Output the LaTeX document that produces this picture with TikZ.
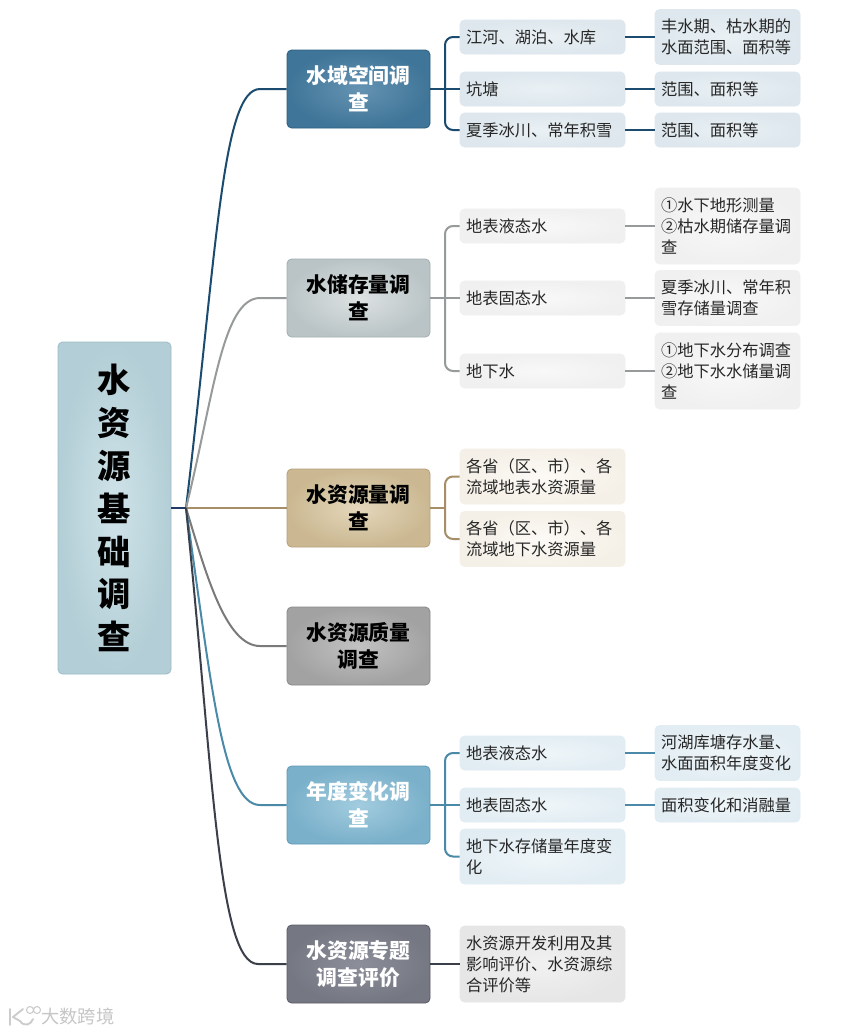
\documentclass[tikz,border=0pt]{standalone}
\usepackage{fontspec}
\setmainfont{Noto Sans CJK SC}
\definecolor{cA}{HTML}{1B4B6E}
\definecolor{cB}{HTML}{979A9A}
\definecolor{cC}{HTML}{A68F68}
\definecolor{cD}{HTML}{7A7A7A}
\definecolor{cE}{HTML}{4A89A8}
\definecolor{cF}{HTML}{3B3F4A}
\definecolor{cR}{HTML}{223A66}
\definecolor{rI}{HTML}{CFE3E9}\definecolor{rO}{HTML}{B3CED6}\definecolor{rD}{HTML}{9DBCC5}
\definecolor{tAi}{HTML}{6593B2}\definecolor{tAo}{HTML}{3F7598}\definecolor{tAd}{HTML}{2A5F80}
\definecolor{tBi}{HTML}{DDE2E2}\definecolor{tBo}{HTML}{BAC4C6}\definecolor{tBd}{HTML}{A3AEB0}
\definecolor{tCi}{HTML}{E4D7BB}\definecolor{tCo}{HTML}{CBB892}\definecolor{tCd}{HTML}{B5A078}
\definecolor{tDi}{HTML}{C2C2C2}\definecolor{tDo}{HTML}{A2A2A2}\definecolor{tDd}{HTML}{8A8A8A}
\definecolor{tEi}{HTML}{A2CCDF}\definecolor{tEo}{HTML}{7AB0CA}\definecolor{tEd}{HTML}{5F9AB8}
\definecolor{tFi}{HTML}{8C8E99}\definecolor{tFo}{HTML}{757782}\definecolor{tFd}{HTML}{5A5C66}
\definecolor{lAi}{HTML}{EAF1F5}\definecolor{lAo}{HTML}{DDE7ED}
\definecolor{lBi}{HTML}{F8F8F8}\definecolor{lBo}{HTML}{F0F0F0}
\definecolor{lCi}{HTML}{FCFAF6}\definecolor{lCo}{HTML}{F5F0E7}
\definecolor{lEi}{HTML}{EFF6F9}\definecolor{lEo}{HTML}{E2EDF3}
\definecolor{lFi}{HTML}{F1F1F1}\definecolor{lFo}{HTML}{E6E6E6}
\tikzset{
 base/.style={rounded corners=3.5pt,line width=.6pt,anchor=center,inner sep=0pt},
 rootbox/.style={base,minimum width=84.75pt,minimum height=249pt,inner color=rI,outer color=rO,draw=rD,font=\bfseries\fontsize{25}{32.2}\selectfont,align=center,text=black},
 topbox/.style n args={4}{base,minimum width=107.25pt,minimum height=58.5pt,inner color=#1,outer color=#2,draw=#3,text=#4,font=\bfseries\fontsize{15.6}{20.3}\selectfont,align=center},
 wide/.style n args={2}{base,minimum width=123.75pt,text width=114.75pt,align=left,inner color=#1,outer color=#2,draw=#2,font=\fontsize{12.2}{15.75}\selectfont,text=black!85},
 narrow/.style n args={2}{base,minimum width=108.75pt,text width=99.75pt,align=left,inner color=#1,outer color=#2,draw=#2,font=\fontsize{12.2}{15.75}\selectfont,text=black!85},
 hA/.style={minimum height=25.5pt},
 hB/.style={minimum height=41.25pt},
 hC/.style={minimum height=57pt},
 stem/.style={line width=1.5pt},
 elbow/.style={line width=1.5pt,rounded corners=6pt},
 marktext/.style={text=gray!45,font=\fontsize{13.7}{15}\selectfont,inner sep=0pt,anchor=west},
}
\begin{document}
\begin{tikzpicture}[x=.75pt,y=-.75pt]
\useasboundingbox[fill=white] (0,0) rectangle (858,1033);
% root
\node[rootbox] (root) at (114.5,508) {水\\资\\源\\基\\础\\调\\查};
\coordinate (hub) at (186,508);
% level 1
\node[topbox={tAi}{tAo}{tAd}{white}] (A) at (358.5,89) {水域空间调\\查};
\node[topbox={tBi}{tBo}{tBd}{black}] (B) at (358.5,298) {水储存量调\\查};
\node[topbox={tCi}{tCo}{tCd}{black}] (C) at (358.5,508) {水资源量调\\查};
\node[topbox={tDi}{tDo}{tDd}{black}] (D) at (358.5,646) {水资源质量\\调查};
\node[topbox={tEi}{tEo}{tEd}{white}] (E) at (358.5,805) {年度变化调\\查};
\node[topbox={tFi}{tFo}{tFd}{white}] (F) at (358.5,964) {水资源专题\\调查评价};
% trunks
\coordinate (tA) at (445,89);
\coordinate (tB) at (445,298);
\coordinate (tC) at (445,508);
\coordinate (tE) at (445,805);
% level 2
\node[wide={lAi}{lAo},hA] (A1) at (542.5,37) {江河、湖泊、水库};
\node[wide={lAi}{lAo},hA] (A2) at (542.5,89) {坑塘};
\node[wide={lAi}{lAo},hA] (A3) at (542.5,130) {夏季冰川、常年积雪};
\node[wide={lBi}{lBo},hA] (B1) at (542.5,226) {地表液态水};
\node[wide={lBi}{lBo},hA] (B2) at (542.5,298) {地表固态水};
\node[wide={lBi}{lBo},hA] (B3) at (542.5,371) {地下水};
\node[wide={lCi}{lCo},hB] (C1) at (542.5,476.5) {各省（区、市）、各\\流域地表水资源量};
\node[wide={lCi}{lCo},hB] (C2) at (542.5,539) {各省（区、市）、各\\流域地下水资源量};
\node[wide={lEi}{lEo},hA] (E1) at (542.5,753) {地表液态水};
\node[wide={lEi}{lEo},hA] (E2) at (542.5,805) {地表固态水};
\node[wide={lEi}{lEo},hB] (E3) at (542.5,856.5) {地下水存储量年度变\\化};
\node[wide={lFi}{lFo},hC] (F1) at (542.5,964) {水资源开发利用及其\\影响评价、水资源综\\合评价等};
% level 3
\node[narrow={lAi}{lAo},hB] (A1x) at (727.5,37) {丰水期、枯水期的\\水面范围、面积等};
\node[narrow={lAi}{lAo},hA] (A2x) at (727.5,89) {范围、面积等};
\node[narrow={lAi}{lAo},hA] (A3x) at (727.5,130) {范围、面积等};
\node[narrow={lBi}{lBo},hC] (B1x) at (727.5,226) {①水下地形测量\\②枯水期储存量调\\查};
\node[narrow={lBi}{lBo},hB] (B2x) at (727.5,298) {夏季冰川、常年积\\雪存储量调查};
\node[narrow={lBi}{lBo},hC] (B3x) at (727.5,371) {①地下水分布调查\\②地下水水储量调\\查};
\node[narrow={lEi}{lEo},hB] (E1x) at (727.5,753) {河湖库塘存水量、\\水面面积年度变化};
\node[narrow={lEi}{lEo},hA] (E2x) at (727.5,805) {面积变化和消融量};
% root connectors
\draw[cA,stem] (hub) .. controls (217,250) and (222,89) .. (260,89) -- (A.west);
\draw[cB,stem] (hub) .. controls (213,400) and (222,298) .. (260,298) -- (B.west);
\draw[cC,stem] (hub) -- (C.west);
\draw[cD,stem] (hub) .. controls (205,570) and (225,646) .. (260,646) -- (D.west);
\draw[cE,stem] (hub) .. controls (211,680) and (222,805) .. (260,805) -- (E.west);
\draw[cF,stem] (hub) .. controls (213,770) and (218,964) .. (258,964) -- (F.west);
\draw[cR,stem] (root.east) -- (hub);
% branches A
\draw[cA,stem] (A.east) -- (A2.west);
\draw[cA,elbow] (tA) |- (A1.west);
\draw[cA,elbow] (tA) |- (A3.west);
\draw[cA,stem] (A1.east) -- (A1x.west);
\draw[cA,stem] (A2.east) -- (A2x.west);
\draw[cA,stem] (A3.east) -- (A3x.west);
% branches B
\draw[cB,stem] (B.east) -- (B2.west);
\draw[cB,elbow] (tB) |- (B1.west);
\draw[cB,elbow] (tB) |- (B3.west);
\draw[cB,stem] (B1.east) -- (B1x.west);
\draw[cB,stem] (B2.east) -- (B2x.west);
\draw[cB,stem] (B3.east) -- (B3x.west);
% branches C
\draw[cC,stem] (C.east) -- (tC);
\draw[cC,elbow] (tC) |- (C1.west);
\draw[cC,elbow] (tC) |- (C2.west);
% branches E
\draw[cE,stem] (E.east) -- (E2.west);
\draw[cE,elbow] (tE) |- (E1.west);
\draw[cE,elbow] (tE) |- (E3.west);
\draw[cE,stem] (E1.east) -- (E1x.west);
\draw[cE,stem] (E2.east) -- (E2x.west);
% branch F
\draw[cF,stem] (F.east) -- (F1.west);
% watermark
\draw[gray!40,line width=1.4pt,line cap=round,line join=round]
  (10,1009) -- (10,1025) (23,1009) -- (13,1017) -- (20,1021)
  .. controls (24,1027) and (31,1025) .. (33,1019);
\draw[gray!40,line width=.8pt] (30,1010) circle (3.5) (37,1010) circle (3.5);
\node[marktext] (mark) at (41,1017) {大数跨境};
\end{tikzpicture}
\end{document}
